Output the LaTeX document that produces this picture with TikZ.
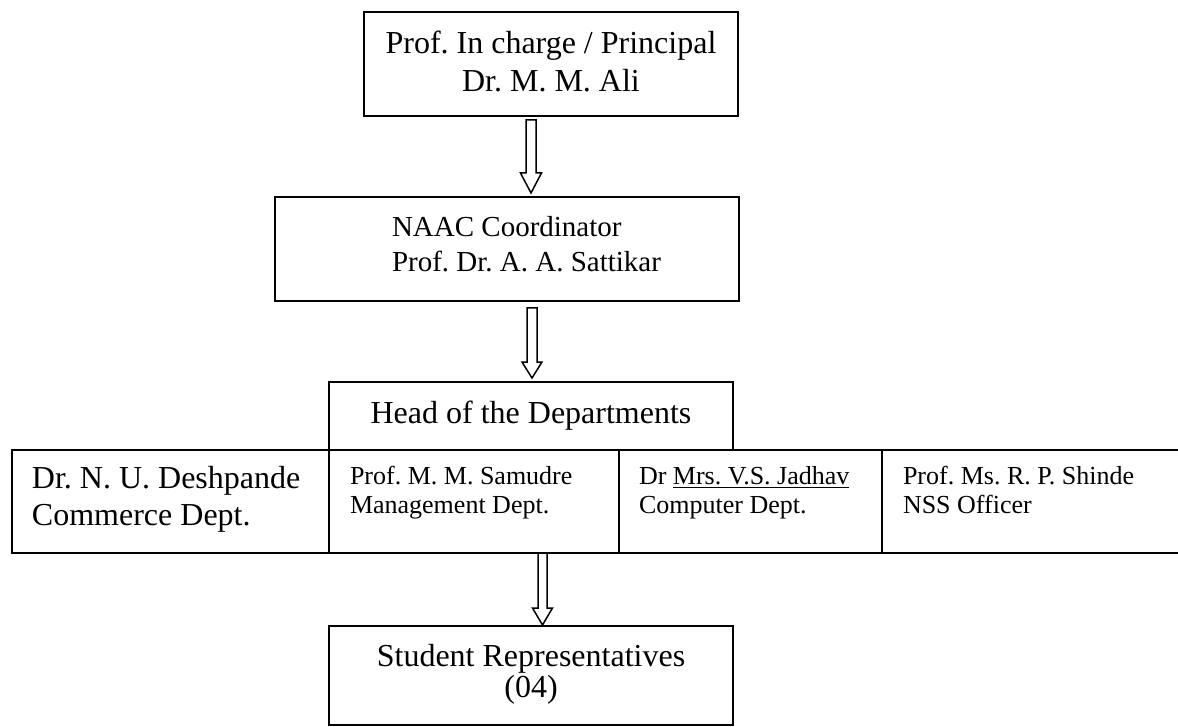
\documentclass[tikz,border=0pt]{standalone}
\usepackage{fontspec}
\setmainfont{Liberation Serif}
\usetikzlibrary{fit,calc}
\frenchspacing
\tikzset{
  box/.style={draw, line width=0.9pt, inner sep=0pt, outer sep=0pt},
  cell/.style={inner sep=0pt, outer sep=0pt},
  rule/.style={line width=0.9pt},
  txt/.style={inner sep=0pt, outer sep=0pt},
  big/.style={font=\fontsize{16}{19}\selectfont},
  mid/.style={font=\fontsize{14.5}{17.5}\selectfont},
  small/.style={font=\fontsize{13}{14.5}\selectfont},
  blk/.style={draw, line width=0.75pt, fill=white, line join=miter},
}
\begin{document}
\begin{tikzpicture}[x=0.5pt, y=-0.5pt]
\useasboundingbox (0,0) rectangle (1178,727);
% boxes
\node[box, fit={(364,12) (738,116)}] (b1) {};
\node[box, fit={(275,197) (739,301)}] (b2) {};
\node[box, fit={(329,382) (733,450)}] (b3) {};
\node[box, fit={(12,450) (329,553)}] (c1) {};
\node[box, fit={(329,450) (619,553)}] (c2) {};
\node[box, fit={(619,450) (882,553)}] (c3) {};
\node[cell, fit={(882,450) (1178,553)}] (c4) {};
\draw[rule] (c4.north west) -- (c4.north east);
\draw[rule] (c4.south west) -- (c4.south east);
\node[box, fit={(329,626) (733,725)}] (b5) {};
% texts
\node[txt, big, align=center, anchor=north] (t1) at (551,31) {Prof. In charge / Principal\\Dr. M. M. Ali};
\node[txt, mid, align=left, anchor=north west] (t2) at (392,216) {NAAC Coordinator\\Prof. Dr. A. A. Sattikar};
\node[txt, big, align=center, anchor=north] (t3) at (531,401) {Head of the Departments};
\node[txt, font=\fontsize{16}{18.5}\selectfont, align=left, anchor=north west] (tc1) at (32,466) {Dr. N. U. Deshpande\\Commerce Dept.};
\node[txt, small, align=left, anchor=north west] (tc2) at (350,466) {Prof. M. M. Samudre\\Management Dept.};
\node[txt, small, align=left, anchor=north west] (tc3) at (639,466) {Dr \underline{Mrs. V.S. Jadhav}\\Computer Dept.};
\node[txt, small, align=left, anchor=north west] (tc4) at (903,466) {Prof. Ms. R. P. Shinde\\NSS Officer};
\node[txt, font=\fontsize{16}{14.5}\selectfont, align=center, anchor=north] (t5) at (531,644) {Student Representatives\\(04)};
% arrow axes
\coordinate (ax1) at (531,0);
\coordinate (ax2) at (532,0);
\coordinate (ax3) at (542.5,0);
% block arrows
\draw[blk] ($(b1.south -| ax1)+(-5,4)$) -- ($(b2.north -| ax1)+(-5,-24)$) -- ($(b2.north -| ax1)+(-10.5,-24)$) -- ($(b2.north -| ax1)+(0,-4)$) -- ($(b2.north -| ax1)+(10.5,-24)$) -- ($(b2.north -| ax1)+(5,-24)$) -- ($(b1.south -| ax1)+(5,4)$) -- cycle;
\draw[blk] ($(b2.south -| ax2)+(-5,7)$) -- ($(b3.north -| ax2)+(-5,-20)$) -- ($(b3.north -| ax2)+(-10,-20)$) -- ($(b3.north -| ax2)+(0,-4)$) -- ($(b3.north -| ax2)+(10,-20)$) -- ($(b3.north -| ax2)+(5,-20)$) -- ($(b2.south -| ax2)+(5,7)$) -- cycle;
\draw[blk] ($(c2.south -| ax3)+(-4.5,0)$) -- ($(b5.north -| ax3)+(-4.5,-18)$) -- ($(b5.north -| ax3)+(-10,-18)$) -- ($(b5.north -| ax3)+(0,-1)$) -- ($(b5.north -| ax3)+(10,-18)$) -- ($(b5.north -| ax3)+(4.5,-18)$) -- ($(c2.south -| ax3)+(4.5,0)$) -- cycle;
\end{tikzpicture}
\end{document}
